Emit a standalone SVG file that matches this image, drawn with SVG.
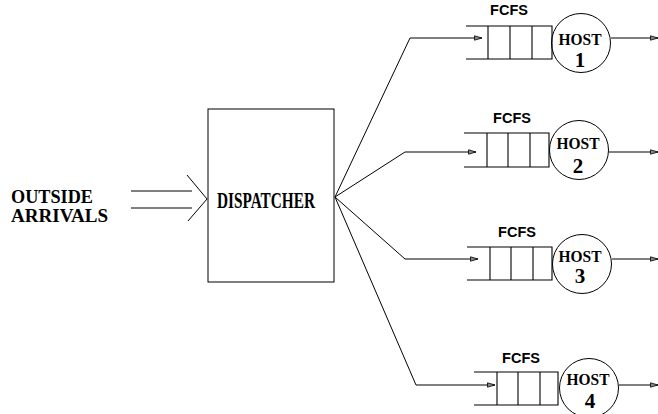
<svg xmlns="http://www.w3.org/2000/svg" width="658" height="414" viewBox="0 0 658 414">
<style>
.ln{fill:none;stroke:#000;stroke-width:1}
.q{fill:none;stroke:#000;stroke-width:1.1}
.t{font-family:"Liberation Serif","Times New Roman",serif;font-weight:bold;fill:#000}
.f{font-family:"Liberation Sans",Arial,sans-serif;font-weight:bold;font-size:14.5px;fill:#000;text-anchor:middle}
</style>
<defs>
<marker id="ah" markerWidth="9" markerHeight="6" refX="8" refY="3" orient="auto" markerUnits="userSpaceOnUse">
<path d="M0.5,0.8 L8,3 L0.5,5.2 Z" fill="#888" stroke="#000" stroke-width="0.8"/>
</marker>
</defs>
<rect width="658" height="414" fill="#fff"/>
<g id="arrivals">
<text class="t" x="11" y="203" font-size="18.5" textLength="82" lengthAdjust="spacingAndGlyphs">OUTSIDE</text>
<text class="t" x="11" y="222" font-size="18.5" textLength="97" lengthAdjust="spacingAndGlyphs">ARRIVALS</text>
</g>
<g id="dispatcher">
<rect x="208" y="109" width="126" height="173" class="ln"/>
<text class="t" x="217" y="208" font-size="23.5" textLength="98" lengthAdjust="spacingAndGlyphs">DISPATCHER</text>
</g>
<g id="host1">
<text class="f" x="509" y="15">FCFS</text>
<path class="q" d="M466,26 H552 V59 H466 M488,26 V59 M510,26 V59 M532,26 V59"/>
<circle cx="581" cy="43" r="29.5" class="ln"/>
<text class="t" x="580" y="45" font-size="16" text-anchor="middle" textLength="43" lengthAdjust="spacingAndGlyphs">HOST</text>
<text class="t" x="580" y="67" font-size="21" text-anchor="middle">1</text>
</g>
<g id="host2">
<text class="f" x="512" y="123">FCFS</text>
<path class="q" d="M464,133 H549 V167 H464 M487,133 V167 M508,133 V167 M530,133 V167"/>
<circle cx="579" cy="150" r="29.5" class="ln"/>
<text class="t" x="578" y="149" font-size="16" text-anchor="middle" textLength="43" lengthAdjust="spacingAndGlyphs">HOST</text>
<text class="t" x="578" y="173" font-size="21" text-anchor="middle">2</text>
</g>
<g id="host3">
<text class="f" x="517" y="237">FCFS</text>
<path class="q" d="M467,247 H552 V280 H467 M490,247 V280 M511,247 V280 M533,247 V280"/>
<circle cx="582" cy="264" r="29.5" class="ln"/>
<text class="t" x="580" y="262" font-size="16" text-anchor="middle" textLength="43" lengthAdjust="spacingAndGlyphs">HOST</text>
<text class="t" x="580" y="283" font-size="21" text-anchor="middle">3</text>
</g>
<g id="host4">
<text class="f" x="521" y="363">FCFS</text>
<path class="q" d="M474,372 H558 V405 H474 M497,372 V405 M518,372 V405 M540,372 V405"/>
<circle cx="589" cy="388" r="29.5" class="ln"/>
<text class="t" x="588" y="385" font-size="16" text-anchor="middle" textLength="43" lengthAdjust="spacingAndGlyphs">HOST</text>
<text class="t" x="590" y="408" font-size="21" text-anchor="middle">4</text>
</g>
<g id="connectors">
<path class="ln" d="M131,191 H192 M131,208 H192 M187,175 L207,199 L188,221"/>
<polyline class="ln" points="335,197 410,38 482,38" marker-end="url(#ah)"/>
<polyline class="ln" points="335,197 405,152 476,152" marker-end="url(#ah)"/>
<polyline class="ln" points="335,197 405,259 478,259" marker-end="url(#ah)"/>
<polyline class="ln" points="335,197 416,385 495,385" marker-end="url(#ah)"/>
<line class="ln" x1="611" y1="38" x2="658" y2="38" marker-end="url(#ah)"/>
<line class="ln" x1="609" y1="152" x2="658" y2="152" marker-end="url(#ah)"/>
<line class="ln" x1="612" y1="259" x2="658" y2="259" marker-end="url(#ah)"/>
<line class="ln" x1="619" y1="385" x2="658" y2="385" marker-end="url(#ah)"/>
</g>
</svg>
